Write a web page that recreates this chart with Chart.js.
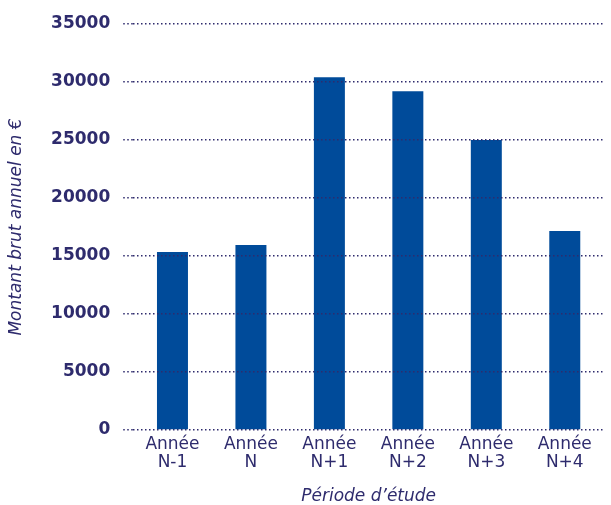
<!DOCTYPE html>
<html>
<head>
<meta charset="utf-8">
<script src="https://cdn.jsdelivr.net/npm/chart.js@4.4.1/dist/chart.umd.min.js"></script>
<style>
  html, body { margin: 0; padding: 0; background: #ffffff; }
  #wrap { width: 611px; height: 505px; position: relative; }
</style>
</head>
<body>
<div id="wrap"><canvas id="c"></canvas></div>
<script>
const categories = [
  ['Année', 'N-1'],
  ['Année', 'N'],
  ['Année', 'N+1'],
  ['Année', 'N+2'],
  ['Année', 'N+3'],
  ['Année', 'N+4']
];
const montants = [15350, 15950, 30400, 29200, 25000, 17150];
const yTickValues = [0, 5000, 10000, 15000, 20000, 25000, 30000, 35000];
const yTickLabels = ['0', '5000', '10000', '15000', '20000', '25000', '30000', '35000'];
const xTitle = 'Période d\u2019étude';
const yTitle = 'Montant brut annuel en €';

const textColor = '#2e2b6d';
const gridColor = '#2e2b6d';
const barColor = '#004b9a';
const fontFamily = '"DejaVu Sans", sans-serif';

new Chart(document.getElementById('c'), {
  type: 'bar',
  data: {
    labels: categories,
    datasets: [{
      data: montants,
      backgroundColor: barColor,
      borderWidth: 0,
      categoryPercentage: 1,
      barPercentage: 0.395
    }]
  },
  options: {
    responsive: true,
    maintainAspectRatio: false,
    animation: false,
    devicePixelRatio: 1,
    layout: { padding: { top: 24, right: 7, bottom: 0, left: 0 } },
    plugins: { legend: { display: false }, tooltip: { enabled: false } },
    scales: {
      x: {
        grid: { display: false, drawTicks: false },
        border: { display: false },
        ticks: {
          color: textColor,
          padding: 6,
          maxRotation: 0,
          autoSkip: false,
          font: { family: fontFamily, size: 17, lineHeight: 1.06 }
        },
        title: {
          display: true,
          text: xTitle,
          color: textColor,
          padding: { top: 10, bottom: 0 },
          font: { family: fontFamily, size: 17, style: 'italic', lineHeight: 1 }
        }
      },
      y: {
        min: 0,
        max: 35000,
        afterBuildTicks: (scale) => { scale.ticks = yTickValues.map(v => ({ value: v })); },
        grid: {
          z: 1,
          color: gridColor,
          lineWidth: 1.5,
          drawTicks: true,
          tickLength: 10,
          tickColor: gridColor,
          tickWidth: 1.5,
          tickBorderDash: [1.5, 2.5]
        },
        border: { display: false, dash: [1.5, 2.5] },
        ticks: {
          color: textColor,
          padding: 13,
          font: { family: fontFamily, size: 17, weight: 'bold' },
          callback: (v) => yTickLabels[yTickValues.indexOf(v)]
        },
        title: {
          display: true,
          text: yTitle,
          color: textColor,
          padding: { top: 8.5, bottom: 12.6 },
          font: { family: fontFamily, size: 17, style: 'italic', lineHeight: 1 }
        }
      }
    }
  }
});
</script>
</body>
</html>
